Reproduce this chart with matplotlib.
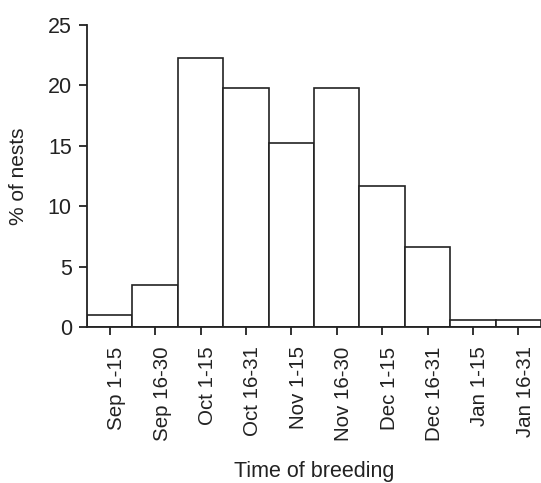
import numpy as np
import matplotlib.pyplot as plt
import matplotlib.transforms as mtransforms

plt.rcParams['font.family'] = ['Liberation Sans', 'DejaVu Sans']

# Datos
periodos = ["Sep 1-15", "Sep 16-30", "Oct 1-15", "Oct 16-31", "Nov 1-15",
            "Nov 16-30", "Dec 1-15", "Dec 16-31", "Jan 1-15", "Jan 16-31"]
porcentaje_nidos = [1.0, 3.5, 22.3, 19.8, 15.2, 19.8, 11.7, 6.6, 0.6, 0.6]

fig = plt.figure(figsize=(5.41, 4.83), dpi=100)
ax = fig.add_axes([0.161, 0.323, 0.839, 0.625])

x = np.arange(len(periodos))
ax.bar(x, porcentaje_nidos, width=1.0, color="white", edgecolor="#222222",
       linewidth=1.2)

ax.set_xlim(-0.5, len(periodos) - 0.5)
ax.set_ylim(0, 25)
ax.set_yticks([0, 5, 10, 15, 20, 25])
ax.set_xticks(x)
ax.set_xticklabels(periodos, rotation=90)

for lado in ["top", "right"]:
    ax.spines[lado].set_visible(False)
for lado in ["left", "bottom"]:
    ax.spines[lado].set_linewidth(1.3)
    ax.spines[lado].set_color("#222222")

ax.tick_params(axis="both", direction="out", length=6, width=1.3,
               color="#222222", labelcolor="#222222")
ax.tick_params(axis="y", labelsize=15.5, pad=5)
ax.tick_params(axis="x", labelsize=14.8, pad=8)

# etiquetas del eje x un poco a la derecha de la marca
desplazamiento = mtransforms.ScaledTranslation(5 / 72, 0, fig.dpi_scale_trans)
for etiqueta in ax.get_xticklabels():
    etiqueta.set_transform(etiqueta.get_transform() + desplazamiento)

ax.set_ylabel("% of nests", fontsize=15, color="#222222", labelpad=14)
ax.set_xlabel("Time of breeding", fontsize=15.5, color="#222222", labelpad=14)

fig.savefig("out.png", dpi=100)
